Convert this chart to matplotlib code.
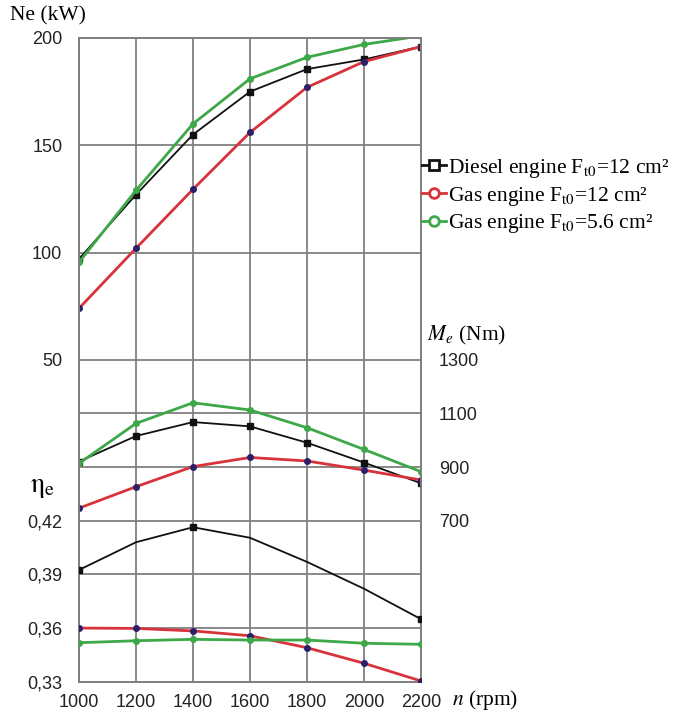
import matplotlib
matplotlib.use("Agg")
import matplotlib.pyplot as plt
from matplotlib.lines import Line2D

plt.rcParams['mathtext.fontset'] = 'stix'

# ---- data ----
rpm = [1000, 1200, 1400, 1600, 1800, 2000, 2200]
x_ticks = [1000, 1200, 1400, 1600, 1800, 2000, 2200]

ne_diesel = [97, 127, 155, 175, 185.5, 190, 196]
ne_gas12 = [74, 102, 129.5, 156, 177, 189, 196]
ne_gas56 = [95.5, 129, 160, 181, 191, 197, 201]

me_diesel = [921, 1016, 1068, 1052, 991, 917, 840]
me_gas12 = [747, 827, 902, 936, 923, 889, 852]
me_gas56 = [914, 1063, 1140, 1113, 1047, 966, 883]

eta_diesel = [0.3925, 0.408, 0.4164, 0.4105, 0.397, 0.382, 0.365]
eta_gas12 = [0.360, 0.3598, 0.3584, 0.3557, 0.349, 0.3403, 0.3304]
eta_gas56 = [0.3518, 0.3529, 0.3537, 0.3533, 0.3533, 0.3515, 0.3509]

ne_ticks = [50, 100, 150, 200]
ne_grid = [-100, -75, -50, -25, 0, 25]
me_ticks = [700, 900, 1100, 1300]
eta_ticks = [0.33, 0.36, 0.39, 0.42]
eta_labels = ['0,33', '0,36', '0,39', '0,42']

labels = [r'Diesel engine F$_{\mathrm{t0}}$=12 cm²',
          r'Gas engine F$_{\mathrm{t0}}$=12 cm²',
          r'Gas engine F$_{\mathrm{t0}}$=5.6 cm²']

BLACK = '#111111'
RED = '#d8323b'
GREEN = '#3da847'
NAVY = '#2b1f6b'
GRID = '#808080'

fig = plt.figure(figsize=(6.74, 7.15), dpi=100)
ax = fig.add_axes([79/674, 1 - 681.7/715, 342/674, 643.7/715])
ax_me = ax.twinx()
ax_eta = ax.twinx()

ax.set_xlim(1000, 2200)
ax.set_ylim(-100, 200)
ax_me.set_ylim(100, 2500)
ax_eta.set_ylim(0.33, 0.69)

# grid
ax.set_xticks(x_ticks)
ax.set_yticks(ne_ticks)
ax.set_yticks(ne_grid, minor=True)
ax.grid(True, which='both', color=GRID, lw=1.3)
ax.set_axisbelow(True)
for a in (ax, ax_me, ax_eta):
    for s in a.spines.values():
        s.set_color(GRID)
        s.set_linewidth(1.3)
    a.tick_params(length=0, which='both')
ax.patch.set_visible(False)

tick_font = dict(family='Liberation Sans', size=13, color='#222222')
ax.set_xticklabels([str(v) for v in x_ticks], fontdict=tick_font)
ax.set_yticklabels([str(v) for v in ne_ticks], fontdict=tick_font)
ax.tick_params(axis='x', pad=9)
ax.tick_params(axis='y', pad=12)

ax_me.set_yticks(me_ticks)
ax_me.set_yticklabels([str(v) for v in me_ticks], fontdict=tick_font)
ax_me.tick_params(axis='y', pad=13)

ax_eta.yaxis.tick_left()
ax_eta.set_yticks(eta_ticks)
ax_eta.set_yticklabels(eta_labels, fontdict=tick_font)
ax_eta.tick_params(axis='y', pad=12)

# Ne
ax.plot(rpm, ne_diesel, color=BLACK, lw=1.3, marker='s', ms=4, mfc=BLACK, mec=BLACK, zorder=3)
ax.plot(rpm, ne_gas12, color=RED, lw=2.0, marker='o', ms=4, mfc=NAVY, mec=NAVY, zorder=3)
ax.plot(rpm, ne_gas56, color=GREEN, lw=2.0, marker='o', ms=4, mfc=GREEN, mec=GREEN, zorder=4)

# Me
ax_me.plot(rpm, me_diesel, color=BLACK, lw=1.3, marker='s', ms=4, mfc=BLACK, mec=BLACK, zorder=3)
ax_me.plot(rpm, me_gas12, color=RED, lw=2.0, marker='o', ms=4, mfc=NAVY, mec=NAVY, zorder=3)
ax_me.plot(rpm, me_gas56, color=GREEN, lw=2.0, marker='o', ms=4, mfc=GREEN, mec=GREEN, zorder=4)

# eta
ax_eta.plot(rpm, eta_diesel, color=BLACK, lw=1.3, marker='s', ms=4, mfc=BLACK, mec=BLACK,
            markevery=[0, 2, 6], zorder=3)
ax_eta.plot(rpm, eta_gas12, color=RED, lw=2.0, marker='o', ms=4, mfc=NAVY, mec=NAVY, zorder=3)
ax_eta.plot(rpm, eta_gas56, color=GREEN, lw=2.0, marker='o', ms=4, mfc=GREEN, mec=GREEN, zorder=4)

# axis titles
serif = 'Liberation Serif'
fig.text(10/674, 1 - 16/715, 'Ne (kW)', family=serif, fontsize=15.5, ha='left', va='center')
fig.text(427/674, 1 - 335/715, r'$M_e$ (Nm)', family=serif, fontsize=15.5, ha='left', va='center')
fig.text(30/674, 1 - 487/715, r'$\mathrm{\eta_e}$', family=serif, fontsize=20, ha='left', va='center')
fig.text(452/674, 1 - 700/715, r'$n$ (rpm)', family=serif, fontsize=15.5, ha='left', va='center')

# legend
handles = [
    Line2D([], [], color=BLACK, lw=2, marker='s', ms=7, mfc='white', mec=BLACK, mew=2),
    Line2D([], [], color=RED, lw=2, marker='o', ms=7, mfc='white', mec=RED, mew=2),
    Line2D([], [], color=GREEN, lw=2, marker='o', ms=7, mfc='white', mec=GREEN, mew=2),
]
fig.legend(handles, labels, loc='upper left', bbox_to_anchor=(422/674, 1 - 157/715),
           frameon=False, prop={'family': serif, 'size': 15.5}, handlelength=1.1,
           handletextpad=0.1, labelspacing=0.22, borderpad=0, borderaxespad=0)

fig.savefig('out.png', dpi=100)
